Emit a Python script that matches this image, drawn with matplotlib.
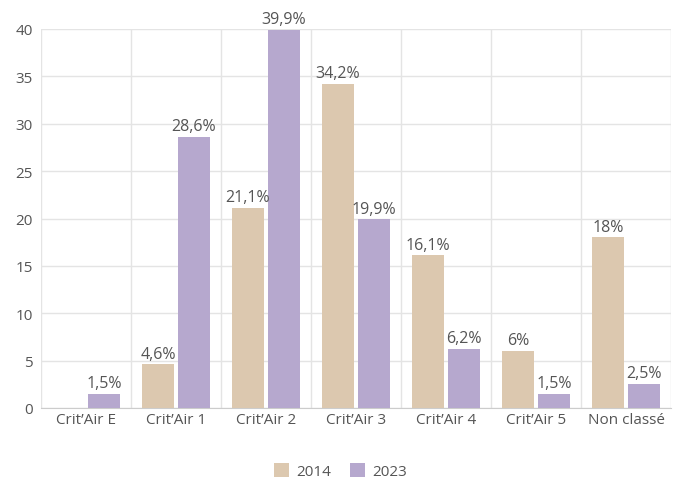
import matplotlib
matplotlib.use("Agg")
import matplotlib.pyplot as plt
import numpy as np

categories = ["Crit\u2019Air E", "Crit\u2019Air 1", "Crit\u2019Air 2", "Crit\u2019Air 3", "Crit\u2019Air 4", "Crit\u2019Air 5", "Non classé"]
v2014 = [0, 4.6, 21.1, 34.2, 16.1, 6, 18]
v2023 = [1.5, 28.6, 39.9, 19.9, 6.2, 1.5, 2.5]
labels2014 = [None, "4,6%", "21,1%", "34,2%", "16,1%", "6%", "18%"]
labels2023 = ["1,5%", "28,6%", "39,9%", "19,9%", "6,2%", "1,5%", "2,5%"]
series_names = ["2014", "2023"]
yticks = [0, 5, 10, 15, 20, 25, 30, 35, 40]

plt.rcParams['font.family'] = ['Open Sans', 'DejaVu Sans']
c2014 = "#DCC8AF"
c2023 = "#B6A8CE"
tc = "#555555"
gc = "#E4E4E4"

fig = plt.figure(figsize=(6.81, 4.81), dpi=100)
ax = fig.add_axes([41/681, 1-409/481, 630/681, 379/481])

x = np.arange(len(categories))
w = 0.355
off = 0.2
b1 = ax.bar(x - off, v2014, w, color=c2014, label=series_names[0], zorder=3)
b2 = ax.bar(x + off, v2023, w, color=c2023, label=series_names[1], zorder=3)

for xi, v, lab in zip(x, v2014, labels2014):
    if lab:
        ax.text(xi - off, v + 0.3, lab, ha='center', va='bottom', color=tc, fontsize=11.5, clip_on=False)
for xi, v, lab in zip(x, v2023, labels2023):
    ax.text(xi + off, v + 0.3, lab, ha='center', va='bottom', color=tc, fontsize=11.5, clip_on=False)

ax.set_xlim(-0.5, len(categories) - 0.5)
ax.set_ylim(0, 40)
ax.set_yticks(yticks)
ax.set_yticklabels([str(t) for t in yticks])
ax.set_xticks(x)
ax.set_xticklabels(categories)
ax.set_xticks(np.arange(len(categories) + 1) - 0.5, minor=True)
ax.grid(axis='y', which='major', color=gc, linewidth=1, zorder=0)
ax.grid(axis='x', which='minor', color=gc, linewidth=1, zorder=0)
ax.tick_params(axis='both', which='both', length=0, colors=tc, labelsize=11)
ax.tick_params(axis='x', pad=3)
ax.tick_params(axis='y', pad=6)
for s in ['top', 'right', 'left']:
    ax.spines[s].set_visible(False)
ax.spines['bottom'].set_color('#CCCCCC')

fig.legend(handles=[b1, b2], labels=series_names, loc='center', bbox_to_anchor=(0.5, 1-472/481),
           ncol=2, frameon=False, fontsize=11, handlelength=1.0, handleheight=1.0,
           columnspacing=1.2, handletextpad=0.5, labelcolor=tc)

fig.savefig("out.png", dpi=100)
